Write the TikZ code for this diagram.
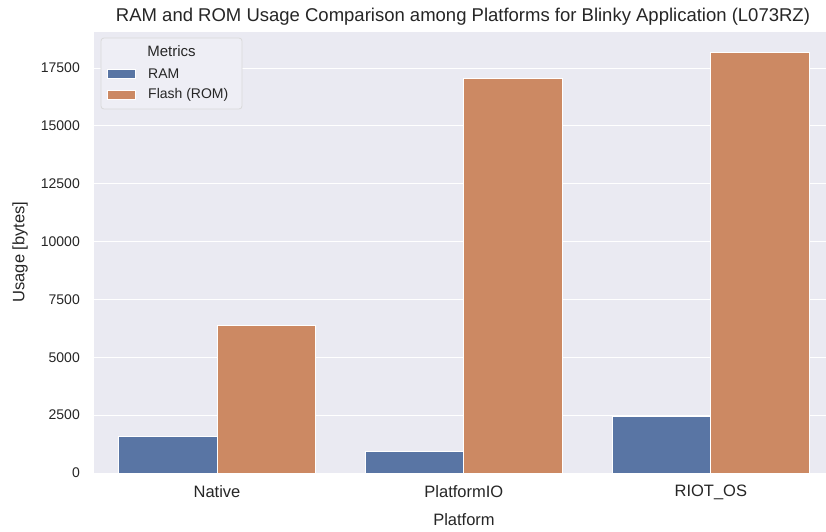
\documentclass[tikz,border=0pt]{standalone}
\usepackage{fontspec}
\setmainfont{Liberation Sans}
\definecolor{plotbg}{HTML}{EAEAF2}
\definecolor{barblue}{HTML}{5975A4}
\definecolor{barorange}{HTML}{CC8963}
\definecolor{txt}{HTML}{262626}
\begin{document}
\begin{tikzpicture}[x=1pt,y=-1pt,
  bar/.style={draw=white,line width=1pt},
  ytick/.style={anchor=east,font=\fontsize{14}{14}\selectfont,text=txt,inner sep=0pt},
  xtick/.style={anchor=center,font=\fontsize{16.5}{16.5}\selectfont,text=txt,inner sep=0pt},
  grid/.style={draw=white,line width=1pt},
  legtext/.style={anchor=west,font=\fontsize{14}{14}\selectfont,text=txt,inner sep=0pt}]
\useasboundingbox (0,0) rectangle (826,531);
\fill[white] (0,0) rectangle (826,531);
\fill[plotbg] (94,32) rectangle (826,473);
% y scale: 0 -> 473, 17500 -> 68 (23.143 px per 1000)
\foreach \v/\k in {0/0,2500/2.5,5000/5,7500/7.5,10000/10,12500/12.5,15000/15,17500/17.5}{
  \pgfmathsetmacro{\yy}{473-\k*23.143}
  \draw[grid] (94,\yy) -- (826,\yy);
  \node[ytick] at (80,\yy) {\v};
}
% bars
\newcommand{\drawbar}[4]{% name, left x, value in thousands, color
  \pgfmathsetmacro{\yt}{473-#3*23.143}
  \filldraw[bar,fill=#4] (#2,473) rectangle (#2+98.7,\yt);
  \coordinate (#1) at (#2+49.35,\yt);
}
\drawbar{natram}{118.3}{1.565}{barblue}
\drawbar{natrom}{217}{6.360}{barorange}
\drawbar{pioram}{365.2}{0.935}{barblue}
\drawbar{piorom}{463.9}{17.035}{barorange}
\drawbar{riotram}{612.1}{2.430}{barblue}
\drawbar{riotrom}{710.8}{18.190}{barorange}
% category labels
\node[xtick] (cat1) at (217,492) {Native};
\node[xtick] (cat2) at (463.9,492) {PlatformIO};
\node[xtick] (cat3) at (710.8,492) {RIOT\_OS};
% axis labels
\node[font=\fontsize{16.5}{16.5}\selectfont,text=txt,inner sep=0pt] (xlab) at (464,520) {Platform};
\node[font=\fontsize{16.5}{16.5}\selectfont,text=txt,inner sep=0pt,rotate=90] (ylab) at (20,252) {Usage [bytes]};
\node[font=\fontsize{18.5}{18.5}\selectfont,text=txt,inner sep=0pt] (title) at (463,17) {RAM and ROM Usage Comparison among Platforms for Blinky Application (L073RZ)};
% legend
\filldraw[draw=black!15,fill=plotbg!80!white,rounded corners=3pt,line width=0.8pt] (101,38) rectangle (242,109);
\node[font=\fontsize{15}{15}\selectfont,text=txt,inner sep=0pt] (legtitle) at (171.5,51) {Metrics};
\filldraw[draw=white,line width=0.8pt,fill=barblue] (107,69) rectangle (135,78);
\node[legtext] (leg1) at (148,73.5) {RAM};
\filldraw[draw=white,line width=0.8pt,fill=barorange] (107,90) rectangle (135,99);
\node[legtext] (leg2) at (148,95) {Flash (ROM)};
\end{tikzpicture}
\end{document}
